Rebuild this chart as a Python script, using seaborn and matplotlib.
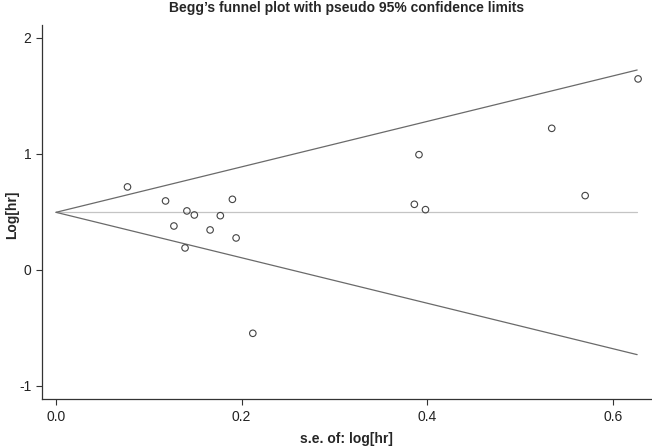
import numpy as np
import pandas as pd
import matplotlib
matplotlib.use('Agg')
import matplotlib.pyplot as plt
import seaborn as sns

# Datos (se de log[hr], log[hr])
se_loghr = [0.077, 0.118, 0.141, 0.149, 0.177, 0.190, 0.127, 0.166, 0.139,
            0.194, 0.212, 0.391, 0.386, 0.398, 0.534, 0.570, 0.627]
loghr = [0.716, 0.595, 0.509, 0.474, 0.468, 0.609, 0.379, 0.345, 0.190,
         0.276, -0.546, 0.994, 0.566, 0.520, 1.221, 0.641, 1.647]

# Estimacion combinada y limite del embudo
pooled = 0.497
se_max = 0.626

df = pd.DataFrame({'se': se_loghr, 'loghr': loghr})
se_line = [0.0, se_max]
upper = [pooled + 1.96 * s for s in se_line]
lower = [pooled - 1.96 * s for s in se_line]
df_lim = pd.DataFrame({'se': se_line * 3,
                       'val': upper + lower + [pooled, pooled],
                       'tipo': ['sup'] * 2 + ['inf'] * 2 + ['med'] * 2})

sns.set_style('ticks')
plt.rcParams['font.family'] = ['Liberation Sans', 'DejaVu Sans']
plt.rcParams['axes.unicode_minus'] = False

fig = plt.figure(figsize=(6.52, 4.46), dpi=100)
ax = fig.add_axes([0.0644, 0.1047, 0.9356, 0.8393])

sns.lineplot(data=df_lim[df_lim.tipo == 'med'], x='se', y='val', color='#c4c4c4',
             linewidth=0.9, ax=ax)
sns.lineplot(data=df_lim[df_lim.tipo == 'sup'], x='se', y='val', color='#6a6a6a',
             linewidth=0.9, ax=ax)
sns.lineplot(data=df_lim[df_lim.tipo == 'inf'], x='se', y='val', color='#6a6a6a',
             linewidth=0.9, ax=ax)
sns.scatterplot(data=df, x='se', y='loghr', s=22, facecolor='none',
                edgecolor='#444444', linewidth=0.8, ax=ax, zorder=3)

ax.set_xlim(-0.0151, 0.642)
ax.set_ylim(-1.115, 2.112)
ax.set_xticks([0.0, 0.2, 0.4, 0.6])
ax.set_xticklabels(['0.0', '0.2', '0.4', '0.6'])
ax.set_yticks([-1, 0, 1, 2])
ax.tick_params(axis='both', length=4, width=0.8, color='#333333',
               labelsize=10, labelcolor='#222222')
for side in ['top', 'right']:
    ax.spines[side].set_visible(False)
for side in ['left', 'bottom']:
    ax.spines[side].set_color('#333333')
    ax.spines[side].set_linewidth(0.9)

ax.set_xlabel('')
ax.set_ylabel('')
fig.text(0.532, 1 - 439 / 446, 's.e. of: log[hr]', fontsize=10, fontweight='bold',
         ha='center', va='center')
fig.text(12 / 652, 1 - 215 / 446, 'Log[hr]', fontsize=10, fontweight='bold',
         ha='center', va='center', rotation=90)
fig.text(0.532, 1 - 8 / 446, 'Begg\u2019s funnel plot with pseudo 95% confidence limits',
         fontsize=10, fontweight='bold', ha='center', va='center')

plt.savefig('out.png', dpi=100)
plt.close()
